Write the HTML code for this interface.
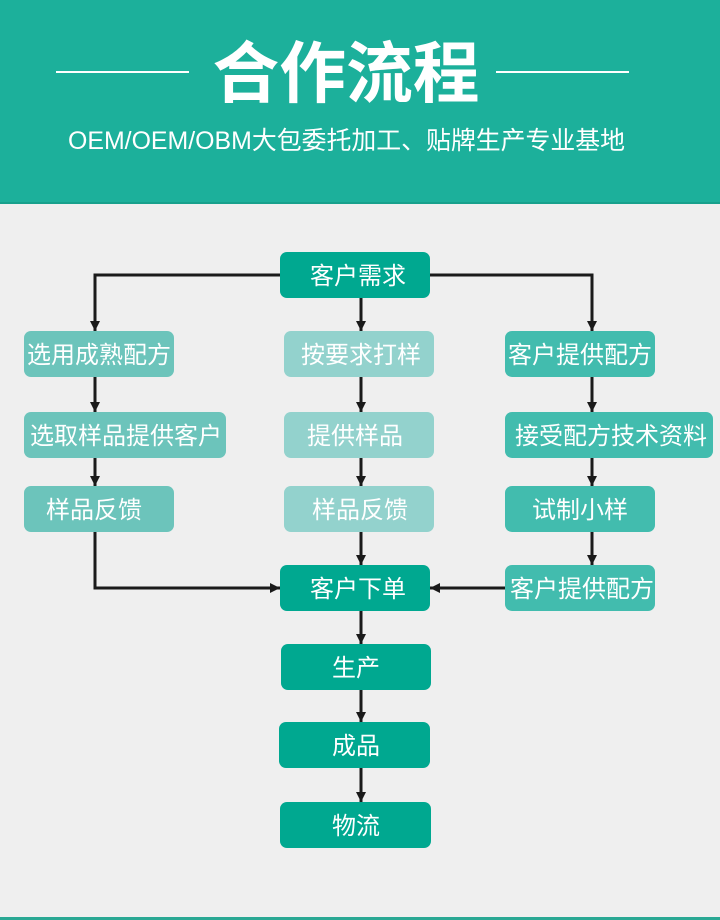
<!DOCTYPE html>
<html><head><meta charset="utf-8"><style>
html,body{margin:0;padding:0;background:#efefef;}
svg{display:block}
text{font-family:"Liberation Sans","Noto Sans CJK SC",sans-serif;fill:#fff;}
</style></head><body>
<svg width="720" height="920" viewBox="0 0 720 920" xmlns="http://www.w3.org/2000/svg">
<defs>
<marker id="a" markerWidth="10" markerHeight="10" refX="10" refY="5" orient="auto" markerUnits="userSpaceOnUse">
<path d="M0,0 L10,5 L0,10 Z" fill="#1a1a1a"/>
</marker>
</defs>
<rect x="0" y="0" width="720" height="920" fill="#efefef"/>
<rect x="0" y="0" width="720" height="204" fill="#1cb09b"/>
<rect x="0" y="202" width="720" height="2" fill="#17a08c"/>
<rect x="0" y="917" width="720" height="3" fill="#2aa894"/>
<line x1="56" y1="72" x2="189" y2="72" stroke="#fff" stroke-width="2"/>
<line x1="496" y1="72" x2="629" y2="72" stroke="#fff" stroke-width="2"/>
<text x="346" y="97" font-size="67" font-weight="bold" text-anchor="middle" textLength="267" lengthAdjust="spacingAndGlyphs">合作流程</text>
<text x="68" y="149" font-size="25" textLength="557" lengthAdjust="spacingAndGlyphs">OEM/OEM/OBM大包委托加工、贴牌生产专业基地</text>

<g stroke="#1a1a1a" stroke-width="3" fill="none">
<polyline points="280,275 95,275 95,331" marker-end="url(#a)"/>
<polyline points="430,275 592,275 592,331" marker-end="url(#a)"/>
<line x1="361" y1="298" x2="361" y2="331" marker-end="url(#a)"/>
<line x1="95" y1="377" x2="95" y2="412" marker-end="url(#a)"/>
<line x1="95" y1="458" x2="95" y2="486" marker-end="url(#a)"/>
<polyline points="95,532 95,588 280,588" marker-end="url(#a)"/>
<line x1="361" y1="377" x2="361" y2="412" marker-end="url(#a)"/>
<line x1="361" y1="458" x2="361" y2="486" marker-end="url(#a)"/>
<line x1="361" y1="532" x2="361" y2="565" marker-end="url(#a)"/>
<line x1="592" y1="377" x2="592" y2="412" marker-end="url(#a)"/>
<line x1="592" y1="458" x2="592" y2="486" marker-end="url(#a)"/>
<line x1="592" y1="532" x2="592" y2="565" marker-end="url(#a)"/>
<line x1="505" y1="588" x2="430" y2="588" marker-end="url(#a)"/>
<line x1="361" y1="611" x2="361" y2="644" marker-end="url(#a)"/>
<line x1="361" y1="690" x2="361" y2="722" marker-end="url(#a)"/>
<line x1="361" y1="768" x2="361" y2="802" marker-end="url(#a)"/>
</g>

<g font-size="24" text-anchor="middle">
<rect x="280" y="252" width="150" height="46" rx="7" fill="#00a890"/><text x="358" y="284">客户需求</text>

<rect x="24" y="331" width="150" height="46" rx="7" fill="#6cc4bb"/><text x="99" y="363">选用成熟配方</text>
<rect x="24" y="412" width="202" height="46" rx="7" fill="#6cc4bb"/><text x="126" y="444">选取样品提供客户</text>
<rect x="24" y="486" width="150" height="46" rx="7" fill="#6cc4bb"/><text x="94" y="518">样品反馈</text>

<rect x="284" y="331" width="150" height="46" rx="7" fill="#93d2cd"/><text x="361" y="363">按要求打样</text>
<rect x="284" y="412" width="150" height="46" rx="7" fill="#93d2cd"/><text x="355" y="444">提供样品</text>
<rect x="284" y="486" width="150" height="46" rx="7" fill="#93d2cd"/><text x="360" y="518">样品反馈</text>

<rect x="505" y="331" width="150" height="46" rx="7" fill="#42bcae"/><text x="580" y="363">客户提供配方</text>
<rect x="505" y="412" width="208" height="46" rx="7" fill="#42bcae"/><text x="611" y="444">接受配方技术资料</text>
<rect x="505" y="486" width="150" height="46" rx="7" fill="#42bcae"/><text x="580" y="518">试制小样</text>
<rect x="505" y="565" width="150" height="46" rx="7" fill="#42bcae"/><text x="582" y="597">客户提供配方</text>

<rect x="280" y="565" width="150" height="46" rx="7" fill="#00a890"/><text x="358" y="597">客户下单</text>
<rect x="281" y="644" width="150" height="46" rx="7" fill="#00a890"/><text x="356" y="676">生产</text>
<rect x="279" y="722" width="151" height="46" rx="7" fill="#00a890"/><text x="356" y="754">成品</text>
<rect x="280" y="802" width="151" height="46" rx="7" fill="#00a890"/><text x="356" y="834">物流</text>
</g>
</svg>
</body></html>
